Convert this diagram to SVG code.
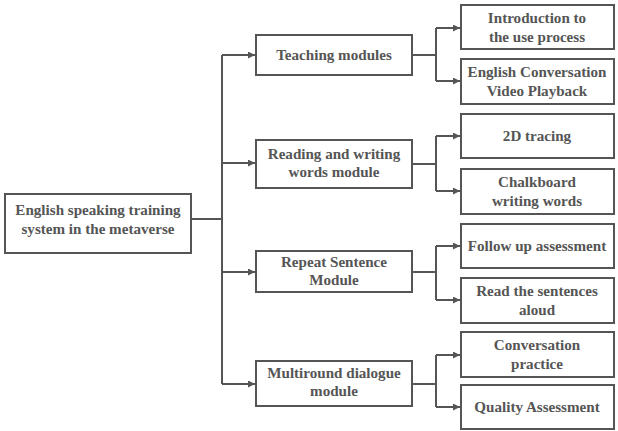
<svg xmlns="http://www.w3.org/2000/svg" width="618" height="431" viewBox="0 0 618 431">
<style>
.box{fill:#fff;stroke:#555;stroke-width:2}
.t{font-family:'Liberation Serif','Times New Roman',serif;font-weight:700;font-size:15.1px;fill:#555;text-anchor:middle}
.c{fill:none;stroke:#555;stroke-width:2}
</style>
<defs>
<marker id="ar" viewBox="0 0 10 10" refX="10" refY="5" markerWidth="8" markerHeight="7" markerUnits="userSpaceOnUse" orient="auto">
<path d="M0,0 L10,5 L0,10 z" fill="#555"/>
</marker>
</defs>
<rect width="618" height="431" fill="#fff"/>
<g id="connectors">
<path class="c" d="M191,219 H222"/>
<path class="c" d="M222,55 V384"/>
<path class="c" d="M222,55 H255" marker-end="url(#ar)"/>
<path class="c" d="M222,163 H255" marker-end="url(#ar)"/>
<path class="c" d="M222,272 H255" marker-end="url(#ar)"/>
<path class="c" d="M222,384 H255" marker-end="url(#ar)"/>
<path class="c" d="M412,55 H436"/>
<path class="c" d="M436,28 V81"/>
<path class="c" d="M436,28 H460" marker-end="url(#ar)"/>
<path class="c" d="M436,81 H460" marker-end="url(#ar)"/>
<path class="c" d="M412,164 H436"/>
<path class="c" d="M436,136 V191"/>
<path class="c" d="M436,136 H460" marker-end="url(#ar)"/>
<path class="c" d="M436,191 H460" marker-end="url(#ar)"/>
<path class="c" d="M412,272 H436"/>
<path class="c" d="M436,246 V300"/>
<path class="c" d="M436,246 H460" marker-end="url(#ar)"/>
<path class="c" d="M436,300 H460" marker-end="url(#ar)"/>
<path class="c" d="M412,384 H436"/>
<path class="c" d="M436,355 V407"/>
<path class="c" d="M436,355 H460" marker-end="url(#ar)"/>
<path class="c" d="M436,407 H460" marker-end="url(#ar)"/>
</g>
<g id="root"><rect class="box" x="5" y="194" width="186" height="59"/><text class="t" x="98" y="215">English speaking training</text><text class="t" x="98" y="234">system in the metaverse</text></g>
<g id="teaching"><rect class="box" x="256" y="35" width="156" height="40"/><text class="t" x="334" y="60">Teaching modules</text></g>
<g id="reading"><rect class="box" x="256" y="140" width="156" height="48"/><text class="t" x="334" y="159">Reading and writing</text><text class="t" x="334" y="177">words module</text></g>
<g id="repeat"><rect class="box" x="256" y="251" width="156" height="41"/><text class="t" x="334" y="267">Repeat Sentence</text><text class="t" x="334" y="285">Module</text></g>
<g id="multiround"><rect class="box" x="256" y="361" width="156" height="45"/><text class="t" x="334" y="378">Multiround dialogue</text><text class="t" x="334" y="396">module</text></g>
<g id="leaf1"><rect class="box" x="461" y="5" width="153" height="44"/><text class="t" x="537" y="23">Introduction to</text><text class="t" x="537" y="42">the use process</text></g>
<g id="leaf2"><rect class="box" x="461" y="59" width="153" height="45"/><text class="t" x="537" y="77">English Conversation</text><text class="t" x="537" y="96">Video Playback</text></g>
<g id="leaf3"><rect class="box" x="461" y="114" width="153" height="44"/><text class="t" x="537" y="141">2D tracing</text></g>
<g id="leaf4"><rect class="box" x="461" y="169" width="153" height="45"/><text class="t" x="537" y="187">Chalkboard</text><text class="t" x="537" y="206">writing words</text></g>
<g id="leaf5"><rect class="box" x="461" y="224" width="153" height="44"/><text class="t" x="537" y="251">Follow up assessment</text></g>
<g id="leaf6"><rect class="box" x="461" y="278" width="153" height="45"/><text class="t" x="537" y="296">Read the sentences</text><text class="t" x="537" y="315">aloud</text></g>
<g id="leaf7"><rect class="box" x="461" y="332" width="153" height="45"/><text class="t" x="537" y="350">Conversation</text><text class="t" x="537" y="369">practice</text></g>
<g id="leaf8"><rect class="box" x="461" y="385" width="153" height="44"/><text class="t" x="537" y="412">Quality Assessment</text></g>
</svg>
